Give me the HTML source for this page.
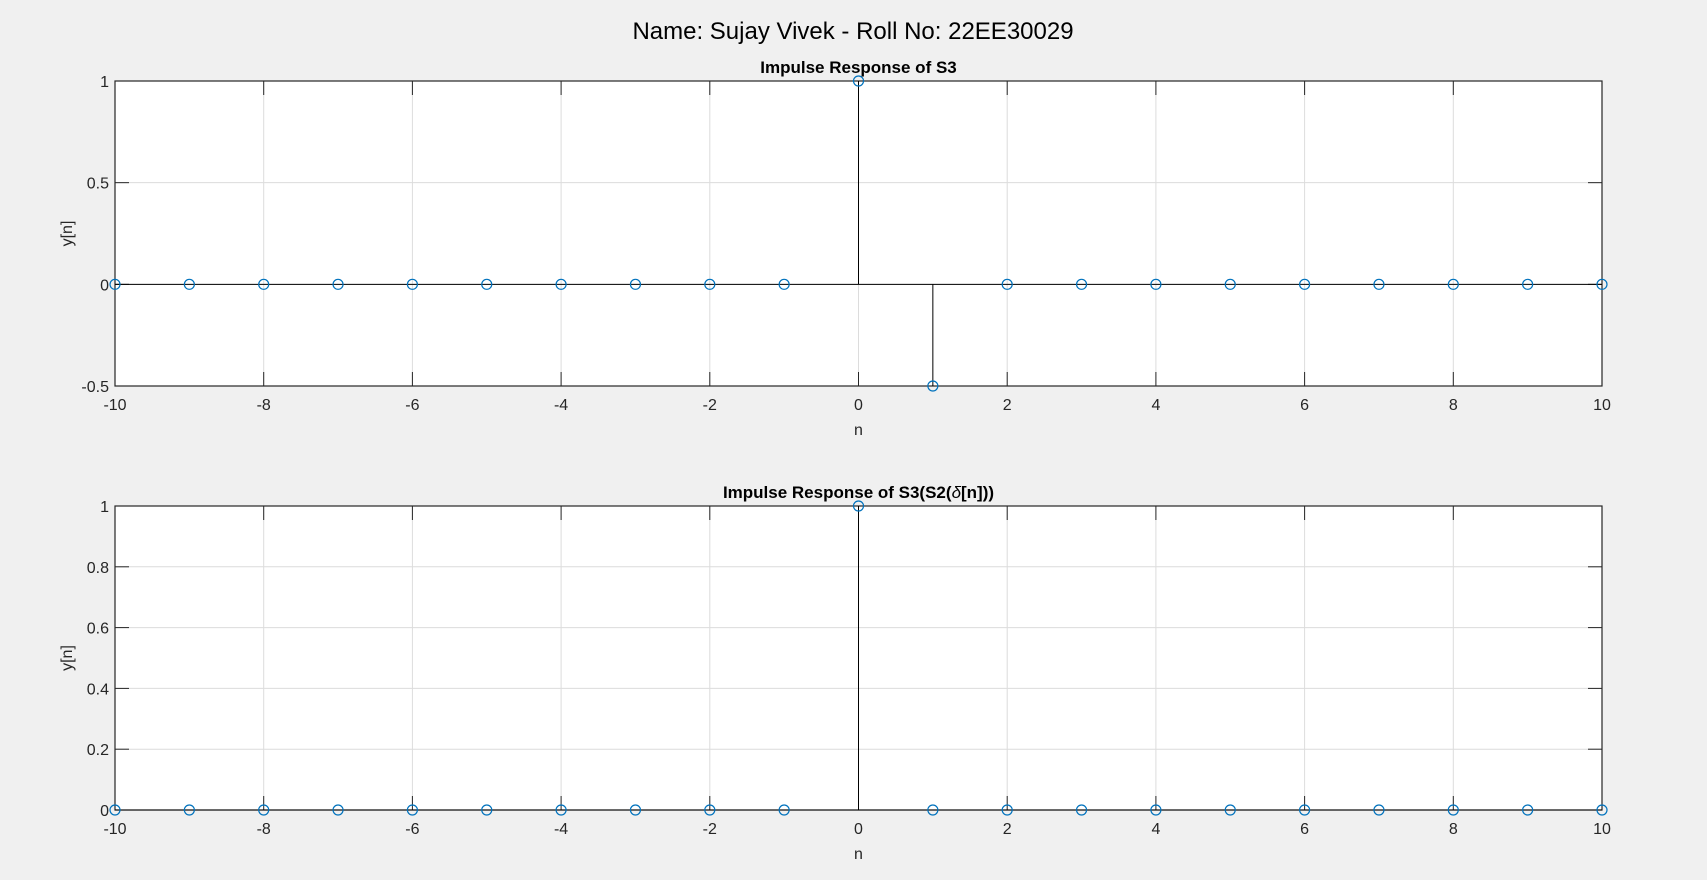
<!DOCTYPE html>
<html><head><meta charset="utf-8"><style>
body{margin:0;background:#f0f0f0;}
svg{display:block;font-family:"Liberation Sans",sans-serif;}
</style></head><body>
<svg id="fig" width="1707" height="880" viewBox="0 0 1707 880">
<rect width="1707" height="880" fill="#f0f0f0"/>
<text x="853" y="39" font-size="24" text-anchor="middle" fill="#000">Name: Sujay Vivek - Roll No: 22EE30029</text>
<g id="p1"></g>
<g id="p2"></g>
</svg>
<script>
const nValues=[-10,-9,-8,-7,-6,-5,-4,-3,-2,-1,0,1,2,3,4,5,6,7,8,9,10];
const y1Values=[0,0,0,0,0,0,0,0,0,0,1,-0.5,0,0,0,0,0,0,0,0,0];
const y2Values=[0,0,0,0,0,0,0,0,0,0,1,0,0,0,0,0,0,0,0,0,0];
const xTicks=[-10,-8,-6,-4,-2,0,2,4,6,8,10];
const y1Ticks=[-0.5,0,0.5,1];
const y2Ticks=[0,0.2,0.4,0.6,0.8,1];
const NS="http://www.w3.org/2000/svg";
function mk(p,t,a){const e=document.createElementNS(NS,t);for(const k in a)e.setAttribute(k,a[k]);p.appendChild(e);return e;}
function draw(g,top,bottom,ymin,ymax,yTicks,ys,title,yfmt){
 const L=115,R=1602;
 const sx=v=>L+(v+10)/20*(R-L);
 const sy=v=>bottom-(v-ymin)/(ymax-ymin)*(bottom-top);
 const bg=mk(g,'rect',{x:L,y:top,width:R-L,height:bottom-top,fill:'#fff'});
 
 
 xTicks.forEach(t=>{const x=sx(t);
  mk(g,'line',{x1:x,y1:top,x2:x,y2:bottom,stroke:'#dcdcdc','stroke-width':1});
  mk(g,'line',{x1:x,y1:top,x2:x,y2:top+14,stroke:'#262626'});
  mk(g,'line',{x1:x,y1:bottom,x2:x,y2:bottom-14,stroke:'#262626'});
  const tx=mk(g,'text',{x:x,y:bottom+24,'font-size':16,'text-anchor':'middle',fill:'#262626'});tx.textContent=t;
  
  
 });
 yTicks.forEach(t=>{const y=sy(t);
  mk(g,'line',{x1:L,y1:y,x2:R,y2:y,stroke:'#dcdcdc','stroke-width':1});
  mk(g,'line',{x1:L,y1:y,x2:L+14,y2:y,stroke:'#262626'});
  mk(g,'line',{x1:R,y1:y,x2:R-14,y2:y,stroke:'#262626'});
  const tx=mk(g,'text',{x:L-6,y:y+6,'font-size':16,'text-anchor':'end',fill:'#262626'});tx.textContent=yfmt(t);
  
  
 });
 mk(g,'rect',{x:L,y:top,width:R-L,height:bottom-top,fill:'none',stroke:'#262626','stroke-width':1.2});
 const y0=sy(0);
 mk(g,'line',{x1:L,y1:y0,x2:R,y2:y0,stroke:'#000','stroke-width':1});
 nValues.forEach((n,i)=>{const x=sx(n),y=sy(ys[i]);
  const st=mk(g,'line',{x1:x,y1:y0,x2:x,y2:y,stroke:'#000','stroke-width':1});
  
  
  const c=mk(g,'circle',{cx:x,cy:y,r:5,fill:'none',stroke:'#0072bd','stroke-width':1.2});
  
  
 });
 const tt=mk(g,'text',{x:(L+R)/2,y:top-8,'font-size':17,'font-weight':'bold','text-anchor':'middle',fill:'#000'});
 tt.innerHTML=title;
 
 
 const xl=mk(g,'text',{x:(L+R)/2,y:bottom+49,'font-size':16,'text-anchor':'middle',fill:'#262626'});xl.textContent='n';
 
 
 const yl=mk(g,'text',{x:0,y:0,'font-size':16,'text-anchor':'middle',fill:'#262626',transform:`translate(72,${(top+bottom)/2}) rotate(-90)`});yl.textContent='y[n]';
 
 
}
draw(document.getElementById('p1'),81,386,-0.5,1,y1Ticks,y1Values,'Impulse Response of S3',t=>String(t));
draw(document.getElementById('p2'),506,810,0,1,y2Ticks,y2Values,'Impulse Response of S3(S2(<tspan font-style="italic" font-weight="normal">δ</tspan>[n]))',t=>String(t));
</script>
</body></html>
